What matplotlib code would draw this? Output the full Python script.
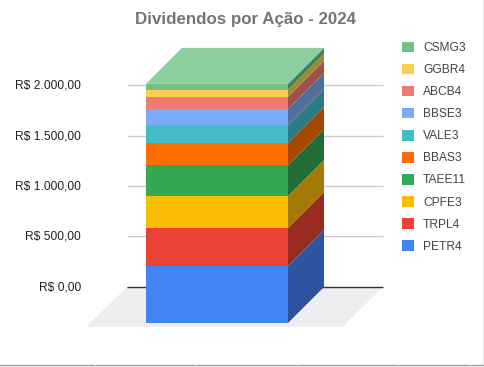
import matplotlib
matplotlib.use('Agg')
import matplotlib.pyplot as plt
from matplotlib.colors import to_rgb
from matplotlib.patches import Patch, Polygon

plt.rcParams['font.family'] = ['Liberation Sans', 'DejaVu Sans']

TICKERS = ['PETR4', 'TRPL4', 'CPFE3', 'TAEE11', 'BBAS3', 'VALE3', 'BBSE3', 'ABCB4', 'GGBR4', 'CSMG3']
VALUES = [567, 378, 318, 308, 219, 179, 159, 119, 70, 60]
COLORS = ['#4285f4', '#ea4335', '#fbbc04', '#34a853', '#ff6d01',
          '#46bdc6', '#7baaf7', '#f07b72', '#fcd04f', '#71c287']
Y_TICKS = [0, 500, 1000, 1500, 2000]
Y_LABELS = ['R$ 0,00', 'R$ 500,00', 'R$ 1.000,00', 'R$ 1.500,00', 'R$ 2.000,00']
TITLE = 'Dividendos por Ação - 2024'

# one axes over the whole figure: x in pixels, y in reais
PER_PX = 500 / 50.3
DEPTH_X = 36
DEPTH_Y = 36 * PER_PX
BAR_LEFT, BAR_RIGHT = 146, 288


def darker(color, k=0.65):
    return tuple(c * k for c in to_rgb(color))


fig = plt.figure(figsize=(4.85, 3.67), dpi=100)
ax = fig.add_axes([0, 0, 1, 1])
ax.set_xlim(0, 485)
ax.set_ylim(-44 * PER_PX, 323 * PER_PX)
ax.axis('off')

# floor
floor_low = -4 * PER_PX
ax.add_patch(Polygon([(86, floor_low), (342, floor_low), (383, DEPTH_Y), (127, DEPTH_Y)],
                     color='#eeeeee', lw=0, zorder=1))

# gridlines on the back wall
for v, label in zip(Y_TICKS, Y_LABELS):
    y = v + DEPTH_Y
    ax.plot([127, 383], [y + 0.5 * PER_PX, y + 0.5 * PER_PX], color='#333333' if v == 0 else '#cccccc',
            lw=1.0, zorder=2, solid_capstyle='butt')
    ax.text(81, y, label, ha='right', va='center', fontsize=8.64, color='#222222')

# stacked 3d bar
bottom = 0
for value, color in zip(VALUES, COLORS):
    top = bottom + value
    ax.add_patch(Polygon([(BAR_LEFT, bottom), (BAR_RIGHT, bottom), (BAR_RIGHT, top), (BAR_LEFT, top)],
                         color=color, lw=0, zorder=3))
    ax.add_patch(Polygon([(BAR_RIGHT, bottom), (BAR_RIGHT + DEPTH_X, bottom + DEPTH_Y),
                          (BAR_RIGHT + DEPTH_X, top + DEPTH_Y), (BAR_RIGHT, top)],
                         color=darker(color), lw=0, zorder=3))
    bottom = top

# top face takes a lighter tint of the last series
top_color = tuple(c + (1 - c) * 0.2 for c in to_rgb(COLORS[-1]))
ax.add_patch(Polygon([(BAR_LEFT, bottom), (BAR_RIGHT, bottom),
                      (BAR_RIGHT + DEPTH_X, bottom + DEPTH_Y), (BAR_LEFT + DEPTH_X, bottom + DEPTH_Y)],
                     color=top_color, lw=0, zorder=3))

ax.text(246, 303 * PER_PX, TITLE, ha='center', va='center',
        fontsize=12.2, fontweight='bold', color='#757575')

handles = [Patch(facecolor=c, edgecolor='none', label=t) for t, c in zip(TICKERS, COLORS)][::-1]
ax.legend(handles=handles, loc='upper left', bbox_to_anchor=(402 / 485, 1 - 41.5 / 367),
          frameon=False, fontsize=8.64, labelcolor='#444444', handlelength=1.0, handleheight=1.0,
          handletextpad=0.75, labelspacing=0.8, borderpad=0, borderaxespad=0)

# card edge and the clipped axis ticks
edge = ax.transAxes
ax.plot([0, 484 / 485], [2.5 / 367, 2.5 / 367], transform=edge, color='#9e9e9e', lw=1.0)
ax.plot([484 / 485, 484 / 485], [2.5 / 367, 1], transform=edge, color='#9e9e9e', lw=1.0)
for px in [95, 196, 297, 398, 469]:
    ax.plot([px / 485, px / 485], [0, 2.5 / 367], transform=edge, color='#cccccc', lw=1.0)

fig.savefig('out.png', dpi=100)
